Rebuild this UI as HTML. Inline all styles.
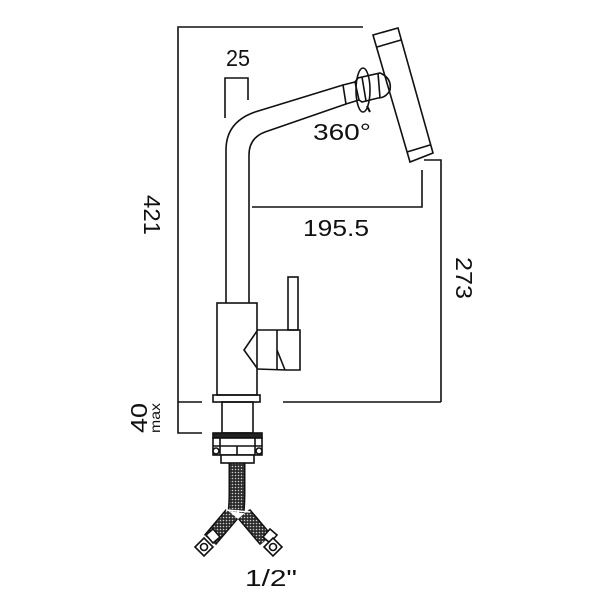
<!DOCTYPE html>
<html><head><style>html,body{margin:0;padding:0;background:#fff}svg{display:block}</style></head>
<body>
<svg width="600" height="600" viewBox="0 0 600 600" xmlns="http://www.w3.org/2000/svg" font-family="Liberation Sans, sans-serif" fill="none" stroke="#111" stroke-width="1.6">
<defs>
<pattern id="mesh" width="3" height="3" patternUnits="userSpaceOnUse"><rect width="3" height="3" fill="#2a2a2a" stroke="none"/><circle cx="1.5" cy="1.5" r="0.8" fill="#ccc" stroke="none"/></pattern>
</defs>
<!-- dimension lines -->
<polyline points="363,27 178,27 178,433 202,433"/>
<line x1="178" y1="402" x2="202" y2="402"/>
<line x1="283" y1="402" x2="441" y2="402"/>
<polyline points="424,160 441,160 441,402"/>
<polyline points="225,118 225,78 248,78 248,100"/>
<polyline points="252,207 422,207 422,170"/>
<!-- pipe -->
<path d="M226,303 L226,150 Q226,122 255,112 L343,85"/>
<path d="M249,303 L249,155 Q249,138 265,132 L346,104"/>
<!-- collar -->
<polygon points="343,85 355,82 359,100 346,104"/>
<path d="M355,82 L358,78 L380,73 Q392,78 390,90 Q386,98 378,98 L362,102 L359,100"/>
<line x1="362" y1="77" x2="366" y2="101"/>
<line x1="378" y1="73" x2="380" y2="98"/>
<ellipse cx="363" cy="90" rx="7" ry="22"/>
<path d="M367,106 L370,112" stroke-width="2"/>
<!-- spray head -->
<polygon points="373,35 398,28 433,153 410,162"/>
<line x1="377" y1="47" x2="401" y2="40"/>
<line x1="407" y1="152" x2="430" y2="145"/>
<!-- body -->
<rect x="217" y="303" width="40" height="92"/>
<rect x="213" y="395" width="47" height="7"/>
<rect x="222" y="402" width="31" height="31"/>
<!-- hoses -->
<g stroke-linecap="butt">
<path d="M237,463 L237,490 Q237,505 236,512" stroke="#111" stroke-width="17"/>
<path d="M237,463 L237,490 Q237,505 236,512" stroke="url(#mesh)" stroke-width="14"/>
<path d="M232,514 L210,540" stroke="#111" stroke-width="16"/>
<path d="M232,514 L210,540" stroke="url(#mesh)" stroke-width="13"/>
<path d="M244,514 L266,540" stroke="#111" stroke-width="16"/>
<path d="M244,514 L266,540" stroke="url(#mesh)" stroke-width="13"/>
</g>
<line x1="226" y1="510" x2="250" y2="512" stroke="#fff" stroke-width="1.5"/>
<line x1="238" y1="510" x2="238" y2="516" stroke="#fff" stroke-width="2"/>
<!-- fittings -->
<g fill="#fff">
<polygon points="206,535 213,529 220,537 213,543"/>
<polygon points="195,547 204,538 213,547 204,556"/><circle cx="204" cy="547" r="3.5"/>
<polygon points="263,537 270,529 277,535 270,543"/>
<polygon points="264,547 273,538 282,547 273,556"/><circle cx="273" cy="547" r="3.5"/>
</g>
<!-- nut -->
<rect x="213" y="433" width="49" height="5" fill="#222"/>
<rect x="213" y="438" width="49" height="17" fill="#fff"/>
<line x1="220" y1="438" x2="220" y2="455"/><line x1="255" y1="438" x2="255" y2="455"/>
<line x1="213" y1="446" x2="262" y2="446"/>
<line x1="237" y1="446" x2="237" y2="463"/>
<rect x="221" y="455" width="33" height="8" fill="#fff"/>
<circle cx="216" cy="451" r="3" fill="#fff"/><circle cx="259" cy="451" r="3" fill="#fff"/>
<!-- handle -->
<rect x="288" y="277" width="10" height="53"/>
<path d="M257,330 L300,330 L300,370 L286,370 L257,369"/>
<path d="M257,331 L244,350 L257,368"/>
<line x1="277" y1="330" x2="277" y2="369"/>
<path d="M277,350 L285,370"/>
<!-- text -->
<g fill="#111" stroke="none" font-size="23">
<text x="226" y="66" textLength="24" lengthAdjust="spacingAndGlyphs">25</text>
<text x="313" y="140" textLength="58" lengthAdjust="spacingAndGlyphs">360°</text>
<text x="303" y="236" textLength="66" lengthAdjust="spacingAndGlyphs">195.5</text>
<text transform="translate(144,195) rotate(90)" textLength="40" lengthAdjust="spacingAndGlyphs">421</text>
<text transform="translate(456,257) rotate(90)" textLength="42" lengthAdjust="spacingAndGlyphs">273</text>
<text transform="translate(147,433) rotate(-90)" textLength="30" lengthAdjust="spacingAndGlyphs">40</text>
<text transform="translate(160,433) rotate(-90)" font-size="14" textLength="30" lengthAdjust="spacingAndGlyphs">max</text>
<text x="245" y="586" textLength="52" lengthAdjust="spacingAndGlyphs">1/2"</text>
</g>
</svg>
</body></html>
